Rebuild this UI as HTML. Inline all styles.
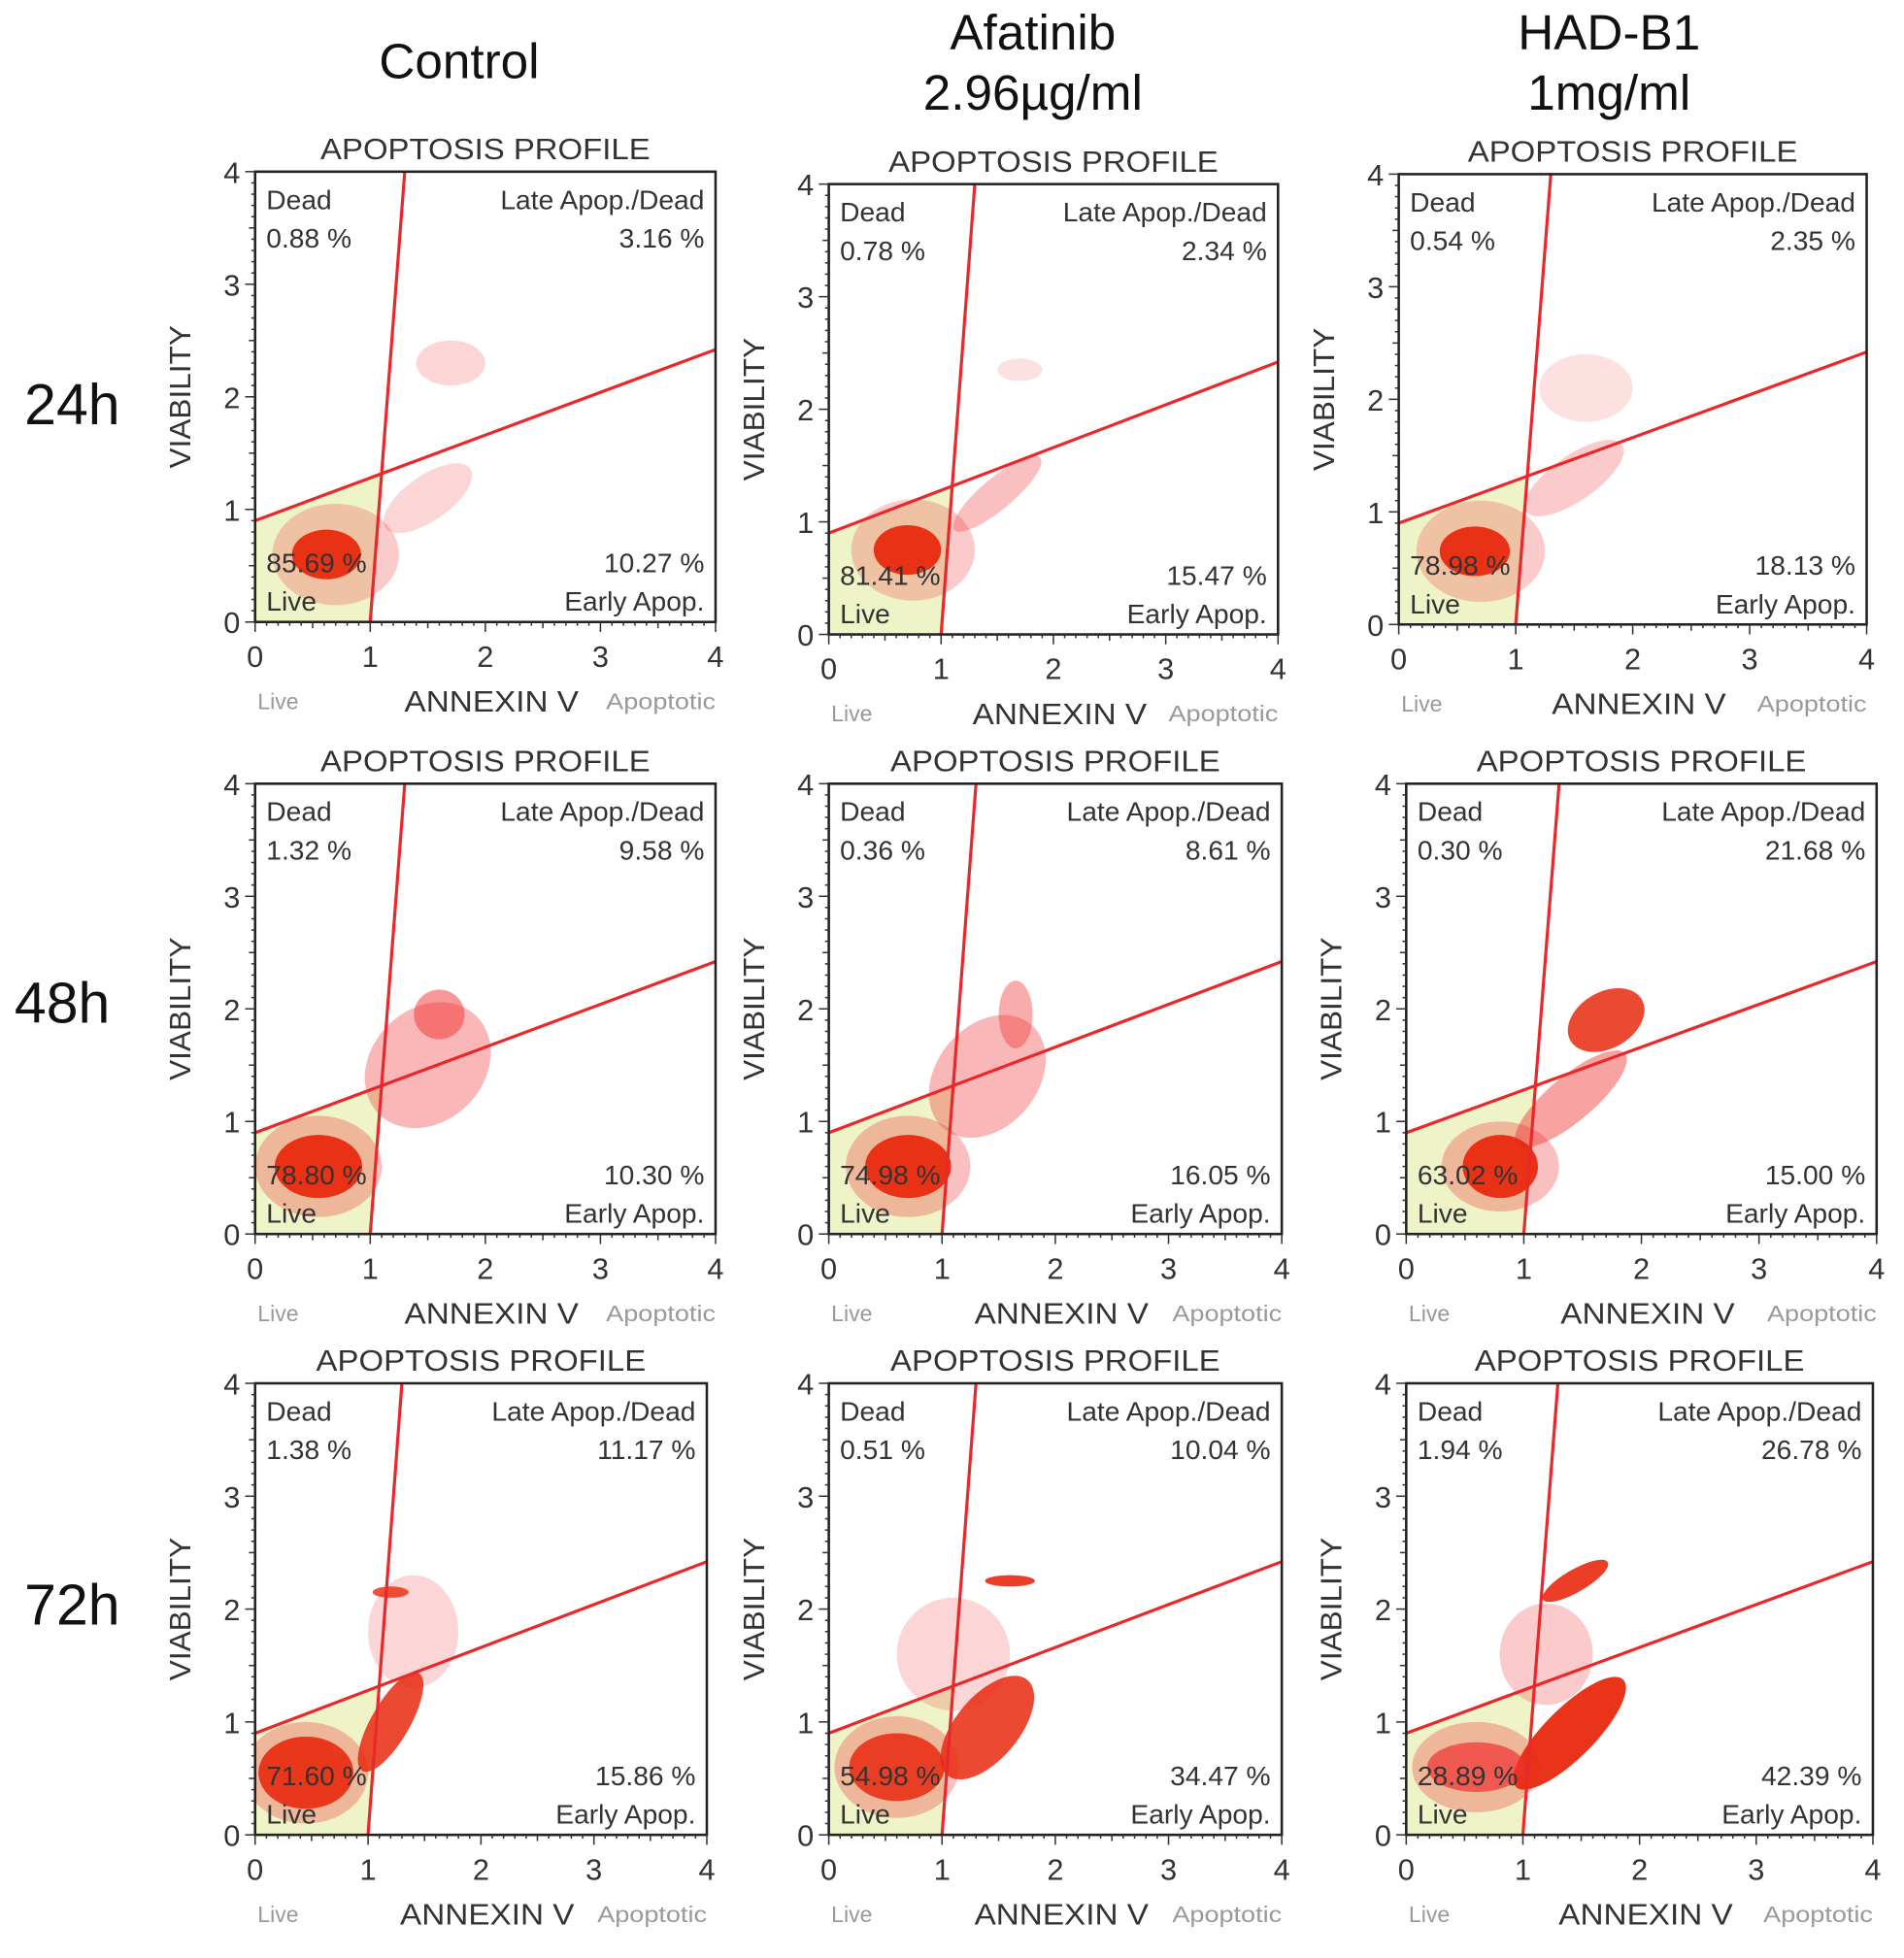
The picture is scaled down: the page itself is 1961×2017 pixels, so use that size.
<!DOCTYPE html>
<html><head><meta charset="utf-8"><style>
html,body{margin:0;padding:0;background:#fff;}
svg{display:block;}
text{font-family:"Liberation Sans",Arial,sans-serif;}
</style></head><body>
<svg id="fig" width="1961" height="2017" viewBox="0 0 1530 1574" preserveAspectRatio="none" xmlns="http://www.w3.org/2000/svg">
<g font-family="Liberation Sans, sans-serif" fill="#111">
<text x="369" y="63" font-size="40" text-anchor="middle">Control</text>
<text x="830" y="40" font-size="40" text-anchor="middle">Afatinib</text>
<text x="830" y="88" font-size="40" text-anchor="middle">2.96µg/ml</text>
<text x="1293" y="40" font-size="40" text-anchor="middle">HAD-B1</text>
<text x="1293" y="88" font-size="40" text-anchor="middle">1mg/ml</text>
<text x="58" y="341" font-size="46" text-anchor="middle">24h</text>
<text x="50" y="822" font-size="46" text-anchor="middle">48h</text>
<text x="58" y="1306" font-size="46" text-anchor="middle">72h</text>
</g>
</svg>
<script>
// Quadrant percentages per panel (row-major: 24h C,A,H; 48h; 72h)
const deadPct  = ["0.88","0.78","0.54","1.32","0.36","0.30","1.38","0.51","1.94"];
const latePct  = ["3.16","2.34","2.35","9.58","8.61","21.68","11.17","10.04","26.78"];
const livePct  = ["85.69","81.41","78.98","78.80","74.98","63.02","71.60","54.98","28.89"];
const earlyPct = ["10.27","15.47","18.13","10.30","16.05","15.00","15.86","34.47","42.39"];
const tickLabels = ["0","1","2","3","4"];
// Gate lines in data units
const vGate = [[1.0,0],[1.3,4]];
const hGate = [[0,0.9],[4,2.42]];
// Cell population clusters per panel: [cx, cy, rx, ry, rotDeg, opacity]
const clusters = [
 [[0.7,0.6,0.55,0.45,0,0.25],[1.5,1.1,0.45,0.2,35,0.2],[1.7,2.3,0.3,0.2,0,0.2],[0.62,0.6,0.3,0.22,0,0.95]],
 [[0.75,0.75,0.55,0.45,0,0.25],[1.5,1.25,0.5,0.14,40,0.3],[1.7,2.35,0.2,0.1,0,0.15],[0.7,0.75,0.3,0.22,0,0.95]],
 [[0.7,0.65,0.55,0.45,0,0.25],[1.5,1.3,0.5,0.2,35,0.25],[1.6,2.1,0.4,0.3,0,0.15],[0.65,0.65,0.3,0.22,0,0.95]],
 [[0.55,0.6,0.55,0.45,0,0.3],[1.5,1.5,0.6,0.5,45,0.35],[1.6,1.95,0.22,0.22,0,0.5],[0.55,0.6,0.38,0.28,0,0.95]],
 [[0.7,0.6,0.55,0.45,0,0.3],[1.4,1.4,0.6,0.45,50,0.35],[1.65,1.95,0.15,0.3,0,0.4],[0.7,0.6,0.38,0.28,0,0.95]],
 [[0.8,0.6,0.5,0.4,0,0.3],[1.4,1.2,0.6,0.2,40,0.45],[1.7,1.9,0.35,0.25,30,0.85],[0.8,0.6,0.32,0.28,0,0.95]],
 [[0.45,0.55,0.55,0.45,0,0.3],[1.4,1.8,0.4,0.5,0,0.2],[1.2,1.0,0.5,0.17,60,0.85],[1.2,2.15,0.16,0.05,0,0.8],[0.45,0.55,0.42,0.32,0,0.9]],
 [[0.6,0.6,0.55,0.45,0,0.3],[1.1,1.6,0.5,0.5,0,0.2],[1.4,0.95,0.55,0.28,50,0.85],[1.6,2.25,0.22,0.05,0,0.9],[0.6,0.6,0.42,0.3,0,0.85]],
 [[0.6,0.6,0.55,0.4,0,0.3],[1.2,1.6,0.4,0.45,0,0.25],[1.4,0.9,0.65,0.22,45,0.95],[1.45,2.25,0.32,0.1,30,0.9],[0.6,0.6,0.42,0.22,0,0.7]]
];
// panel box positions (layout, displayed units)
const boxes = [
 [205,138,370,362],[666,148,361,362],[1124,140,376,362],
 [205,630,370,362],[666,630,364,362],[1130,630,378,362],
 [205,1112,363,363],[666,1112,364,363],[1130,1112,375,363]
];
const NS="http://www.w3.org/2000/svg";
const svg=document.getElementById('fig');
const defs=document.createElementNS(NS,'defs');svg.appendChild(defs);
function mk(tag,attrs,parent,txt){const e=document.createElementNS(NS,tag);for(const k in attrs)e.setAttribute(k,attrs[k]);if(txt!==undefined)e.textContent=txt;(parent||svg).appendChild(e);return e;}
boxes.forEach((b,i)=>{
 const [X,Y,W,H]=b;
 const sx=v=>X+v/4*W, sy=v=>Y+H-v/4*H;
 const cp=mk('clipPath',{id:'clip'+i},defs);
 mk('rect',{x:X,y:Y,width:W,height:H},cp);
 const g=mk('g',{});
 
 
 const t=mk('text',{x:X+W/2,y:Y-10,'font-size':24,'text-anchor':'middle',fill:'#333',textLength:265,lengthAdjust:'spacingAndGlyphs'},g,'APOPTOSIS PROFILE');
 
 
 const pg=mk('g',{'clip-path':`url(#clip${i})`},g);
 const m1=(hGate[1][1]-hGate[0][1])/(hGate[1][0]-hGate[0][0]);
 const m2=(vGate[1][0]-vGate[0][0])/(vGate[1][1]-vGate[0][1]);
 const iy=(hGate[0][1]+m1*vGate[0][0])/(1-m1*m2), ix=vGate[0][0]+m2*iy;
 const live=mk('polygon',{points:`${sx(0)},${sy(0)} ${sx(vGate[0][0])},${sy(0)} ${sx(ix)},${sy(iy)} ${sx(0)},${sy(hGate[0][1])}`,fill:'#eef3c8'},pg);
 
 
 clusters[i].forEach(c=>{
  const [cx,cy,rx,ry,rot,op]=c;
  const e=mk('ellipse',{cx:sx(cx),cy:sy(cy),rx:rx/4*W,ry:ry/4*H,transform:`rotate(${-rot} ${sx(cx)} ${sy(cy)})`,fill:op>0.7?'#e8290e':'#f03030','fill-opacity':op},pg);
  
  
 });
 const l1=mk('line',{x1:sx(vGate[0][0]),y1:sy(vGate[0][1]),x2:sx(vGate[1][0]),y2:sy(vGate[1][1]),stroke:'#e8282a','stroke-width':2.5},pg);
 
 
 const l2=mk('line',{x1:sx(hGate[0][0]),y1:sy(hGate[0][1]),x2:sx(hGate[1][0]),y2:sy(hGate[1][1]),stroke:'#e8282a','stroke-width':2.5},pg);
 
 
 const r=mk('rect',{x:X,y:Y,width:W,height:H,fill:'none',stroke:'#222','stroke-width':2},g);
 
 
 for(let k=0;k<=40;k++){const v=k/10;const len=k%10==0?8:(k%5==0?5:3);
  mk('line',{x1:X-len,y1:sy(v),x2:X,y2:sy(v),stroke:'#333','stroke-width':1.2},g);
  mk('line',{x1:sx(v),y1:Y+H,x2:sx(v),y2:Y+H+len,stroke:'#333','stroke-width':1.2},g);}
 tickLabels.forEach((lab,k)=>{
  const ty=mk('text',{x:X-12,y:sy(+lab)+9,'font-size':24,'text-anchor':'end',fill:'#333'},g,lab);
  
  
  const tx=mk('text',{x:sx(+lab),y:Y+H+36,'font-size':24,'text-anchor':'middle',fill:'#333'},g,lab);
  
  
 });
 const yt=mk('text',{x:0,y:0,'font-size':24,'text-anchor':'middle',fill:'#333',transform:`translate(${X-52},${Y+H/2}) rotate(-90)`,textLength:115,lengthAdjust:'spacingAndGlyphs'},g,'VIABILITY');
 
 
 const xt=mk('text',{x:X+W/2+5,y:Y+H+72,'font-size':24,'text-anchor':'middle',fill:'#333',textLength:140,lengthAdjust:'spacingAndGlyphs'},g,'ANNEXIN V');
 
 
 const lv=mk('text',{x:X+2,y:Y+H+70,'font-size':18,fill:'#999'},g,'Live');
 
 
 const ap=mk('text',{x:X+W,y:Y+H+70,'font-size':18,'text-anchor':'end',fill:'#999',textLength:88,lengthAdjust:'spacingAndGlyphs'},g,'Apoptotic');
 
 
 const q=[[X+9,Y+30,'start','Dead'],[X+9,Y+61,'start',deadPct[i]+' %'],[X+W-9,Y+30,'end','Late Apop./Dead'],[X+W-9,Y+61,'end',latePct[i]+' %'],
  [X+9,Y+H-40,'start',livePct[i]+' %'],[X+9,Y+H-9,'start','Live'],[X+W-9,Y+H-40,'end',earlyPct[i]+' %'],[X+W-9,Y+H-9,'end','Early Apop.']];
 q.forEach(a=>{const e=mk('text',{x:a[0],y:a[1],'font-size':22,'text-anchor':a[2],fill:'#333'},g,a[3]);
  
  });
});
</script>
</body></html>
